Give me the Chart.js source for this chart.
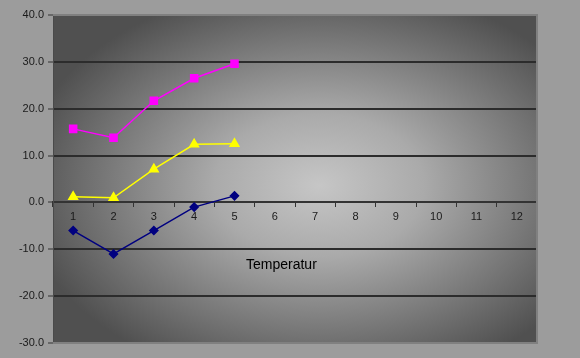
<!DOCTYPE html>
<html><head><meta charset="utf-8">
<script src="https://cdn.jsdelivr.net/npm/chart.js@4"></script>
<style>html,body{margin:0;padding:0;background:#9c9c9c;overflow:hidden}</style>
</head><body>
<canvas id="c" width="580" height="358" style="width:580px;height:358px;display:block"></canvas>
<script>
const categories = ['1','2','3','4','5','6','7','8','9','10','11','12'];
const seriesMagenta = [15.7, 13.8, 21.7, 26.5, 29.6];
const seriesYellow = [1.2, 1.0, 7.1, 12.4, 12.5];
const seriesNavy = [-6.0, -11.0, -6.0, -1.0, 1.4];
const yMin = -30, yMax = 40, yStep = 10;
const axisTitle = 'Temperatur';

const FONT = 'Liberation Sans, Arial, sans-serif';

const bgPlugin = {
  id: 'bg',
  beforeDraw(chart) {
    const ctx = chart.ctx, a = chart.chartArea;
    ctx.save();
    ctx.fillStyle = '#9c9c9c';
    ctx.fillRect(0, 0, chart.width, chart.height);
    const cx = a.left + (a.right - a.left) * 0.55;
    const cy = a.top + (a.bottom - a.top) * 0.52;
    const w = a.right - a.left, h = a.bottom - a.top;
    const sx = w / h;
    ctx.beginPath();
    ctx.rect(a.left, a.top, w, h);
    ctx.clip();
    ctx.translate(cx, cy);
    ctx.scale(sx, 1);
    const r = h * 0.62;
    const g = ctx.createRadialGradient(0, 0, 0, 0, 0, r);
    g.addColorStop(0, '#c6c6c6');
    g.addColorStop(0.35, '#aaaaaa');
    g.addColorStop(1, '#505050');
    ctx.fillStyle = g;
    ctx.fillRect(-w, -h, 2 * w, 2 * h);
    ctx.restore();
  },
  afterDraw(chart) {
    const ctx = chart.ctx, a = chart.chartArea;
    ctx.save();
    ctx.strokeStyle = '#808080';
    ctx.lineWidth = 2;
    ctx.beginPath();
    ctx.moveTo(a.left, a.top);
    ctx.lineTo(a.right, a.top);
    ctx.lineTo(a.right, a.bottom);
    ctx.lineTo(a.left, a.bottom);
    ctx.stroke();
    // axis title
    ctx.fillStyle = '#000';
    ctx.font = '14px ' + FONT;
    ctx.textAlign = 'left';
    ctx.textBaseline = 'middle';
    const y = chart.scales.y.getPixelForValue(-13.3);
    ctx.fillText(axisTitle, a.left + 193, y);
    ctx.restore();
  }
};

new Chart(document.getElementById('c'), {
  type: 'line',
  data: {
    labels: categories,
    datasets: [
      { data: seriesMagenta, borderColor: '#ff00ff', backgroundColor: '#ff00ff', borderWidth: 1.5,
        pointStyle: 'rect', pointRadius: 5, pointHoverRadius: 5 },
      { data: seriesYellow, borderColor: '#ffff00', backgroundColor: '#ffff00', borderWidth: 1.5,
        pointStyle: 'triangle', pointRadius: 5, pointHoverRadius: 5 },
      { data: seriesNavy, borderColor: '#000080', backgroundColor: '#000080', borderWidth: 1.5,
        pointStyle: 'rectRot', pointRadius: 4, pointHoverRadius: 4 }
    ]
  },
  options: {
    responsive: false,
    devicePixelRatio: 1,
    animation: false,
    layout: { padding: { top: 15, right: 43, bottom: 15, left: 0 } },
    plugins: { legend: { display: false }, tooltip: { enabled: false } },
    scales: {
      x: {
        type: 'category',
        position: { y: 0 },
        offset: true,
        grid: { offset: true, drawOnChartArea: false, drawTicks: true, tickLength: 4, tickColor: '#333', tickWidth: 1 },
        border: { display: true, color: '#333', width: 2 },
        ticks: { color: '#1a1a1a', font: { family: FONT, size: 11 }, padding: 4, maxRotation: 0, autoSkip: false }
      },
      y: {
        min: yMin, max: yMax,
        afterFit(scale) { scale.width = 53; },
        ticks: { stepSize: yStep, color: '#1a1a1a', font: { family: FONT, size: 11 }, padding: 4,
                 callback: v => v.toFixed(1) },
        grid: {
          color: c => (c.tick && (c.tick.value === yMax || c.tick.value === yMin || c.tick.value === 0)) ? 'rgba(0,0,0,0)' : '#2c2c2c',
          lineWidth: 2, drawTicks: true, tickLength: 5, tickColor: '#333', tickWidth: 1
        },
        border: { display: true, color: '#4a4a4a', width: 1 }
      }
    }
  },
  plugins: [bgPlugin]
});
</script>
</body></html>
